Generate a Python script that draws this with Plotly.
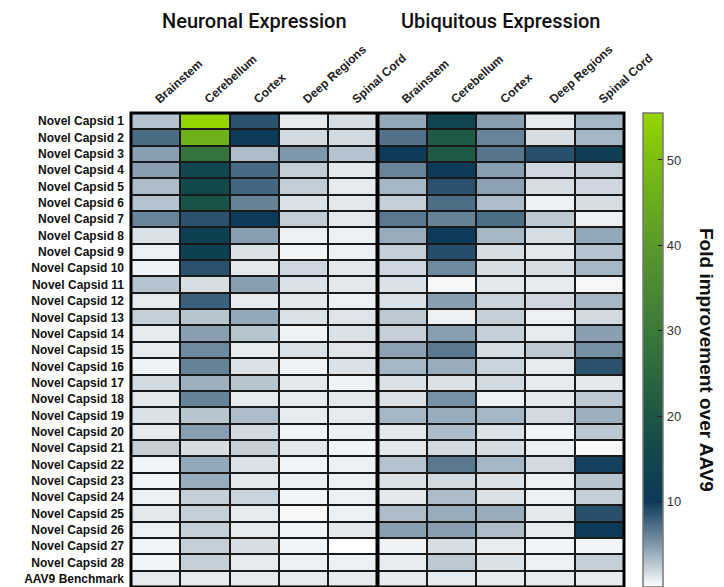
import plotly.graph_objects as go

row_labels = [
    "Novel Capsid 1", "Novel Capsid 2", "Novel Capsid 3", "Novel Capsid 4",
    "Novel Capsid 5", "Novel Capsid 6", "Novel Capsid 7", "Novel Capsid 8",
    "Novel Capsid 9", "Novel Capsid 10", "Novel Capsid 11", "Novel Capsid 12",
    "Novel Capsid 13", "Novel Capsid 14", "Novel Capsid 15", "Novel Capsid 16",
    "Novel Capsid 17", "Novel Capsid 18", "Novel Capsid 19", "Novel Capsid 20",
    "Novel Capsid 21", "Novel Capsid 22", "Novel Capsid 23", "Novel Capsid 24",
    "Novel Capsid 25", "Novel Capsid 26", "Novel Capsid 27", "Novel Capsid 28",
    "AAV9 Benchmark",
]
regions = ["Brainstem", "Cerebellum", "Cortex", "Deep Regions", "Spinal Cord"]
groups = ["Neuronal Expression", "Ubiquitous Expression"]

# columns: Brainstem, Cerebellum, Cortex, Deep Regions, Spinal Cord
neuronal = [
    [2.9, 55.0, 8.7, 1.0, 1.6],
    [7.3, 46.0, 10.3, 1.8, 1.8],
    [4.6, 28.0, 3.2, 5.0, 2.9],
    [4.6, 15.0, 7.4, 2.4, 1.1],
    [3.2, 16.0, 7.6, 2.4, 1.0],
    [2.9, 19.0, 6.1, 1.4, 1.1],
    [6.0, 8.7, 10.1, 2.4, 1.1],
    [1.4, 12.5, 4.6, 0.7, 0.7],
    [0.7, 12.5, 1.4, 0.5, 0.7],
    [0.6, 8.7, 1.1, 1.9, 1.1],
    [2.9, 1.6, 4.6, 1.4, 1.1],
    [1.0, 7.9, 1.0, 1.1, 0.7],
    [2.3, 2.8, 4.2, 1.4, 1.3],
    [1.0, 4.6, 2.8, 0.6, 1.4],
    [1.0, 5.7, 1.0, 1.4, 1.3],
    [0.6, 6.1, 1.4, 0.6, 1.4],
    [1.8, 3.8, 2.8, 1.1, 0.6],
    [1.1, 6.1, 1.0, 1.0, 1.1],
    [1.4, 2.8, 3.2, 0.9, 1.0],
    [1.0, 4.6, 1.8, 0.5, 0.7],
    [2.3, 1.6, 2.3, 1.1, 0.5],
    [0.5, 4.2, 1.4, 0.5, 0.7],
    [0.5, 4.0, 1.1, 0.7, 0.7],
    [0.7, 2.3, 2.1, 0.5, 0.7],
    [1.1, 2.3, 1.0, 0.4, 0.7],
    [0.7, 2.3, 1.0, 0.5, 1.1],
    [0.5, 2.3, 1.6, 0.5, 0.0],
    [0.5, 2.3, 1.0, 0.7, 0.7],
    [1.0, 1.0, 1.0, 1.0, 1.0],
]
ubiquitous = [
    [4.2, 14.0, 4.6, 1.0, 3.5],
    [7.0, 21.0, 6.0, 1.6, 3.5],
    [10.2, 21.0, 6.8, 8.8, 12.0],
    [6.0, 10.5, 4.6, 1.9, 2.3],
    [3.5, 8.7, 4.5, 1.6, 1.9],
    [2.3, 7.2, 3.2, 0.7, 1.6],
    [6.6, 6.1, 7.2, 2.6, 0.7],
    [4.0, 10.1, 3.5, 1.6, 4.2],
    [2.3, 9.0, 1.6, 1.1, 2.9],
    [1.9, 5.7, 1.6, 1.6, 3.5],
    [1.4, 0.4, 1.1, 1.0, 0.4],
    [1.4, 4.6, 2.1, 1.9, 3.5],
    [2.6, 0.7, 2.3, 0.7, 1.8],
    [2.3, 4.6, 2.3, 1.0, 4.6],
    [4.5, 6.6, 1.6, 2.6, 5.5],
    [3.5, 4.0, 2.1, 1.0, 8.7],
    [1.4, 1.4, 1.8, 1.0, 1.1],
    [1.4, 5.3, 0.7, 1.1, 2.6],
    [3.5, 4.0, 3.5, 1.8, 3.8],
    [1.1, 3.2, 1.4, 0.5, 2.6],
    [1.1, 1.8, 1.6, 0.7, 0.4],
    [2.9, 6.6, 3.5, 1.8, 9.6],
    [1.4, 1.8, 1.4, 0.7, 2.8],
    [1.1, 3.2, 1.4, 0.7, 2.3],
    [3.2, 4.0, 4.0, 1.1, 8.8],
    [4.6, 4.6, 3.2, 1.0, 10.2],
    [0.6, 1.6, 0.9, 0.5, 0.5],
    [0.9, 2.6, 1.4, 0.7, 2.3],
    [1.0, 1.0, 1.0, 1.0, 1.0],
]
colorbar_ticks = [10, 20, 30, 40, 50]

ZMIN, ZMAX = 0.0, 55.5
scale_stops = [
    (0.0, "#ffffff"),
    (5.0, "#7f97aa"),
    (10.0, "#0c3a5a"),
    (15.0, "#10464d"),
    (20.0, "#1d5545"),
    (30.0, "#3a7a3a"),
    (40.0, "#59992a"),
    (50.0, "#7cbf10"),
    (55.5, "#98d600"),
]
colorscale = [[(v - ZMIN) / (ZMAX - ZMIN), c] for v, c in scale_stops]

z = [n + u for n, u in zip(neuronal, ubiquitous)]
xcols = list(range(len(regions) * len(groups)))
xtext = regions * len(groups)

# page body has an 8px margin: figure lives at (8, 8) in the window
W, H = 716, 579
ML, MR, MT, MB = 123, 100, 105, 0
PW, PH = W - ML - MR, H - MT - MB
CB_X = (635 - ML) / PW

fig = go.Figure()
fig.add_trace(go.Heatmap(
    z=z, x=xcols, y=row_labels,
    colorscale=colorscale, zmin=ZMIN, zmax=ZMAX,
    xgap=2, ygap=2,
    colorbar=dict(
        x=CB_X, xanchor="left", xpad=0,
        y=1, yanchor="top", len=1, ypad=0,
        thickness=20, outlinecolor="#777777", outlinewidth=1.5,
        tickvals=colorbar_ticks, ticks="inside", ticklen=5,
        tickcolor="#222222", tickwidth=1,
        tickfont=dict(family="Liberation Sans", size=13, color="#333333"),
    ),
    hoverinfo="skip",
))

shapes = [
    dict(type="rect", xref="paper", yref="paper", x0=0, x1=1, y0=0, y1=1,
         line=dict(color="#000000", width=3)),
    dict(type="line", xref="x", yref="paper", x0=len(regions) - 0.5, x1=len(regions) - 0.5,
         y0=0, y1=1, line=dict(color="#000000", width=4)),
]
for t in colorbar_ticks:
    yp = (t - ZMIN) / (ZMAX - ZMIN)
    shapes.append(dict(type="line", xref="paper", yref="paper",
                       x0=CB_X, x1=CB_X + 5 / PW, y0=yp, y1=yp,
                       line=dict(color="#222222", width=1)))

annotations = []
for gi, g in enumerate(groups):
    annotations.append(dict(
        text=g, xref="x", yref="paper",
        x=gi * len(regions) + (len(regions) - 1) / 2, y=1 + MT / PH,
        showarrow=False, xanchor="center", yanchor="top", borderpad=0,
        font=dict(family="Roboto", size=20, color="#111111", weight=500),
    ))
annotations.append(dict(
    text="Fold improvement over AAV9", xref="paper", yref="paper",
    x=(699 - ML) / PW, y=1 - (352 - MT) / PH, textangle=90,
    showarrow=False, xanchor="center", yanchor="middle", borderpad=0,
    font=dict(family="Liberation Sans", size=19, color="#111111", weight="bold"),
))

fig.update_layout(
    width=W, height=H,
    margin=dict(l=ML, r=MR, t=MT, b=MB, autoexpand=False),
    paper_bgcolor="white", plot_bgcolor="#1a1a1a",
    shapes=shapes, annotations=annotations,
    xaxis=dict(side="top", tickvals=xcols, ticktext=xtext, tickangle=-42,
               range=[-0.5, len(xcols) - 0.5], showgrid=False, zeroline=False,
               ticks="", ticklabelstandoff=4,
               tickfont=dict(family="Liberation Sans", size=12, color="#222222", weight="bold")),
    yaxis=dict(autorange="reversed", showgrid=False, zeroline=False, ticks="",
               ticklabelstandoff=6,
               tickfont=dict(family="Liberation Sans", size=12, color="#111111", weight="bold")),
)

fig.write_html("out.html")
